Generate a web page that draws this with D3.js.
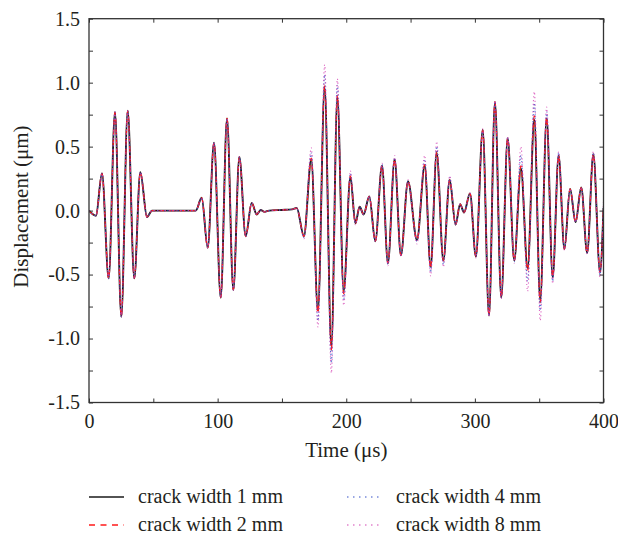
<!DOCTYPE html>
<html lang="en">
<head>
    <meta charset="UTF-8">
    <title>Displacement vs time</title>
    <script src="https://d3js.org/d3.v7.min.js"></script>
    <style>
        body {
            margin: 0;
            background: #fff;
        }
        svg text {
            font-family: "Liberation Serif", "Times New Roman", serif;
            fill: #231f20;
        }
        .tick line {
            stroke: #333;
            stroke-width: 1;
        }
    </style>
</head>
<body>
    <div id="chart"></div>

    <script>
        // time samples (us) at the turning points of the signal
        var timeUs = [0, 5.4, 10.1, 15.3, 20.2, 25.1, 30.1, 35.2, 39.9, 45.1, 49, 60, 75, 83,
            87.6, 92.3, 97.2, 102.4, 107.3, 112.2, 116.9, 121.8, 126.5, 130.4, 133.5, 136.5, 140, 150, 158, 161.5,
            167.1, 172.8, 178, 183.2, 188.4, 193.1, 198, 203.2, 207.1, 210.4,
            213.5, 217.9, 222.6, 227.8, 232.4, 237.6, 242.5, 248, 255, 261,
            265.6, 270.3, 275.5, 280.4, 285, 288.5, 291.6, 296.2, 300.8, 306.1,
            311, 315.6, 320.5, 325.5, 330.6, 335.8, 341, 346.2, 350.8, 355.8,
            360.5, 365.1, 369.6, 374, 378.3, 382.7, 387.3, 392.1, 397.3, 400];

        // displacement (um) for each crack width
        var disp1mm = [0, -0.04, 0.29, -0.53, 0.77, -0.83, 0.78, -0.53, 0.30, -0.05, 0, 0, 0, 0,
            0.10, -0.29, 0.53, -0.68, 0.72, -0.62, 0.42, -0.20, 0.06, -0.03, 0.005, -0.01, 0, 0.005, 0.01, 0.02,
            -0.20, 0.40, -0.78, 0.96, -1.06, 0.88, -0.63, 0.265, -0.10, 0.03,
            -0.03, 0.11, -0.24, 0.35, -0.41, 0.40, -0.35, 0.23, -0.23, 0.35,
            -0.44, 0.45, -0.39, 0.24, -0.11, 0.05, -0.015, 0.135, -0.36, 0.63,
            -0.82, 0.85, -0.68, 0.565, -0.39, 0.33, -0.45, 0.71, -0.70, 0.72,
            -0.52, 0.43, -0.30, 0.17, -0.09, 0.18, -0.33, 0.44, -0.48, 0.02];

        var disp2mm = [0, -0.04, 0.29, -0.53, 0.77, -0.83, 0.78, -0.53, 0.30, -0.05, 0, 0, 0, 0,
            0.10, -0.29, 0.53, -0.68, 0.72, -0.62, 0.42, -0.20, 0.06, -0.03, 0.005, -0.01, 0, 0.005, 0.01, 0.02,
            -0.20, 0.41, -0.80, 0.98, -1.09, 0.90, -0.65, 0.27, -0.10, 0.03,
            -0.03, 0.11, -0.24, 0.35, -0.41, 0.40, -0.35, 0.23, -0.23, 0.36,
            -0.45, 0.46, -0.39, 0.24, -0.11, 0.05, -0.015, 0.135, -0.36, 0.63,
            -0.82, 0.85, -0.68, 0.565, -0.39, 0.35, -0.47, 0.74, -0.72, 0.73,
            -0.52, 0.43, -0.30, 0.17, -0.09, 0.18, -0.33, 0.44, -0.48, 0.03];

        var disp4mm = [0, -0.04, 0.29, -0.53, 0.77, -0.83, 0.78, -0.53, 0.30, -0.05, 0, 0, 0, 0,
            0.10, -0.29, 0.53, -0.68, 0.72, -0.62, 0.42, -0.20, 0.06, -0.03, 0.005, -0.01, 0, 0.005, 0.01, 0.02,
            -0.21, 0.45, -0.86, 1.06, -1.19, 0.98, -0.70, 0.29, -0.10, 0.03,
            -0.03, 0.11, -0.24, 0.36, -0.42, 0.41, -0.35, 0.23, -0.24, 0.40,
            -0.48, 0.50, -0.42, 0.26, -0.11, 0.05, -0.015, 0.135, -0.36, 0.63,
            -0.82, 0.85, -0.68, 0.57, -0.40, 0.43, -0.55, 0.84, -0.78, 0.77,
            -0.55, 0.45, -0.30, 0.17, -0.09, 0.18, -0.33, 0.45, -0.50, 0.05];

        var disp8mm = [0, -0.04, 0.29, -0.53, 0.77, -0.83, 0.78, -0.53, 0.30, -0.05, 0, 0, 0, 0,
            0.10, -0.29, 0.53, -0.68, 0.72, -0.62, 0.42, -0.20, 0.06, -0.03, 0.005, -0.01, 0, 0.005, 0.01, 0.02,
            -0.22, 0.49, -0.91, 1.14, -1.27, 1.03, -0.74, 0.31, -0.11, 0.03,
            -0.03, 0.11, -0.24, 0.37, -0.43, 0.43, -0.36, 0.24, -0.26, 0.43,
            -0.51, 0.54, -0.44, 0.27, -0.11, 0.05, -0.015, 0.135, -0.37, 0.64,
            -0.83, 0.86, -0.69, 0.58, -0.41, 0.50, -0.63, 0.93, -0.86, 0.81,
            -0.57, 0.46, -0.31, 0.17, -0.09, 0.18, -0.34, 0.46, -0.52, 0.08];

        var seriesNames = ["crack width 1 mm", "crack width 2 mm", "crack width 4 mm", "crack width 8 mm"];

        var xTickValues = [0, 50, 100, 150, 200, 250, 300, 350, 400];
        var xTickLabels = ["0", "", "100", "", "200", "", "300", "", "400"];
        var yTickValues = [-1.5, -1.25, -1, -0.75, -0.5, -0.25, 0, 0.25, 0.5, 0.75, 1, 1.25, 1.5];
        var yTickLabels = ["-1.5", "", "-1.0", "", "-0.5", "", "0.0", "", "0.5", "", "1.0", "", "1.5"];

        var width = 618;
        var height = 537;
        var margin = { top: 18.7, right: 14.5, bottom: 134.5, left: 89 };
        var innerW = width - margin.left - margin.right;
        var innerH = height - margin.top - margin.bottom;

        var svg = d3.select("#chart")
            .append("svg")
            .attr("width", width)
            .attr("height", height);

        var x = d3.scaleLinear().domain([0, 400]).range([margin.left, width - margin.right]);
        var y = d3.scaleLinear().domain([-1.5, 1.5]).range([height - margin.bottom, margin.top]);

        // line styles per series
        var styles = [
            { color: "#1a1a1a", width: 1.9, dash: null, legendDash: null, opacity: 1 },
            { color: "#ff1a1a", width: 1.3, dash: "6,4", legendDash: "6,5.5", opacity: 1 },
            { color: "#3550c8", width: 1.1, dash: "1.2,2.2", legendDash: "1.5,4.5", opacity: 0.85 },
            { color: "#d444b4", width: 1.1, dash: "1.2,2.6", legendDash: "1.5,4.5", opacity: 0.8 }
        ];

        var allSeries = [disp1mm, disp2mm, disp4mm, disp8mm].map(function(vals, i) {
            return {
                name: seriesNames[i],
                style: styles[i],
                values: vals.map(function(v, j) { return { t: timeUs[j], v: v }; })
            };
        });

        svg.append("clipPath")
            .attr("id", "plot-clip")
            .append("rect")
            .attr("x", margin.left)
            .attr("y", margin.top)
            .attr("width", innerW)
            .attr("height", innerH);

        var line = d3.line()
            .x(function(d) { return x(d.t); })
            .y(function(d) { return y(d.v); })
            .curve(d3.curveMonotoneX);

        svg.append("g")
            .attr("clip-path", "url(#plot-clip)")
            .selectAll("path")
            .data(allSeries)
            .enter().append("path")
            .attr("fill", "none")
            .attr("stroke", function(d) { return d.style.color; })
            .attr("stroke-width", function(d) { return d.style.width; })
            .attr("stroke-opacity", function(d) { return d.style.opacity; })
            .attr("stroke-dasharray", function(d) { return d.style.dash; })
            .attr("d", function(d) { return line(d.values); });

        // axes: ticks point inwards on all four sides
        var bottomAxis = d3.axisBottom(x)
            .tickValues(xTickValues)
            .tickSizeInner(-4)
            .tickSizeOuter(0)
            .tickPadding(11.5)
            .tickFormat(function(d, i) { return xTickLabels[i]; });

        var topAxis = d3.axisTop(x)
            .tickValues(xTickValues)
            .tickSizeInner(-4)
            .tickSizeOuter(0)
            .tickFormat("");

        var leftAxis = d3.axisLeft(y)
            .tickValues(yTickValues)
            .tickSizeInner(-4)
            .tickSizeOuter(0)
            .tickPadding(9)
            .tickFormat(function(d, i) { return yTickLabels[i]; });

        var rightAxis = d3.axisRight(y)
            .tickValues(yTickValues)
            .tickSizeInner(-4)
            .tickSizeOuter(0)
            .tickFormat("");

        svg.append("g")
            .attr("transform", "translate(0," + (height - margin.bottom) + ")")
            .call(bottomAxis);
        svg.append("g")
            .attr("transform", "translate(0," + margin.top + ")")
            .call(topAxis);
        svg.append("g")
            .attr("transform", "translate(" + margin.left + ",0)")
            .call(leftAxis);
        svg.append("g")
            .attr("transform", "translate(" + (width - margin.right) + ",0)")
            .call(rightAxis);

        svg.selectAll(".domain").remove();
        svg.selectAll(".tick text")
            .attr("font-size", 20)
            .style("font-family", "'Liberation Serif', serif")
            .attr("fill", "#231f20");

        // frame
        svg.append("rect")
            .attr("x", margin.left)
            .attr("y", margin.top)
            .attr("width", innerW)
            .attr("height", innerH)
            .attr("fill", "none")
            .attr("stroke", "#333")
            .attr("stroke-width", 1.3);

        // axis titles
        svg.append("text")
            .attr("x", margin.left + innerW / 2)
            .attr("y", 456.5)
            .attr("text-anchor", "middle")
            .attr("font-size", 21)
            .text("Time (μs)");

        svg.append("text")
            .attr("transform", "translate(28," + (margin.top + innerH / 2 - 4) + ") rotate(-90)")
            .attr("text-anchor", "middle")
            .attr("font-size", 21)
            .text("Displacement (μm)");

        // legend, two columns
        var legendPos = [
            { lx: 89, ly: 497 },
            { lx: 89, ly: 525 },
            { lx: 347, ly: 497 },
            { lx: 347, ly: 525 }
        ];

        var legend = svg.selectAll(".legend")
            .data(allSeries)
            .enter().append("g")
            .attr("class", "legend")
            .attr("transform", function(d, i) { return "translate(" + legendPos[i].lx + "," + legendPos[i].ly + ")"; });

        legend.append("line")
            .attr("x1", 0)
            .attr("x2", 35)
            .attr("y1", 0)
            .attr("y2", 0)
            .attr("stroke", function(d) { return d.style.color; })
            .attr("stroke-width", function(d) { return Math.min(d.style.width, 1.4); })
            .attr("stroke-dasharray", function(d) { return d.style.legendDash; });

        legend.append("text")
            .attr("x", 49)
            .attr("y", 0)
            .attr("dy", "0.32em")
            .attr("font-size", 20)
            .text(function(d) { return d.name; });
    </script>
</body>
</html>
